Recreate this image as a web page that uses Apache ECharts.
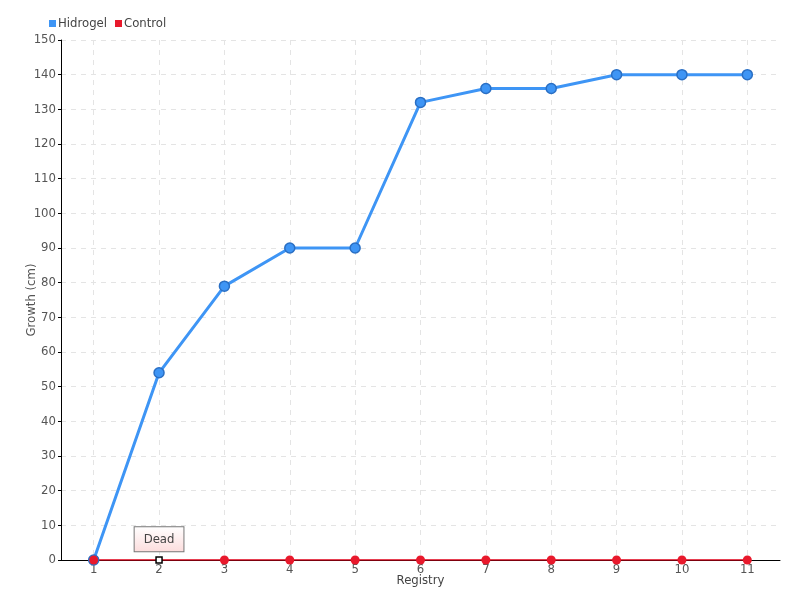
<!DOCTYPE html>
<html>
<head>
<meta charset="utf-8">
<script src="https://cdn.jsdelivr.net/npm/echarts@6/dist/echarts.min.js"></script>
<style>
  html, body { margin: 0; padding: 0; background: #fff; }
  #chart { width: 800px; height: 600px; }
</style>
</head>
<body>
<div id="chart"></div>
<script>
let categories = ['1', '2', '3', '4', '5', '6', '7', '8', '9', '10', '11'];
let hidrogel = [0, 54, 79, 90, 90, 132, 136, 136, 140, 140, 140];
let control = [0, 0, 0, 0, 0, 0, 0, 0, 0, 0, 0];
let deadIndex = 1;

let font = 'DejaVu Sans Condensed';

function init() {
    let controlData = control.map((v, i) => {
        if (i !== deadIndex) return v;
        return {
            value: v,
            symbol: 'rect',
            symbolSize: 6,
            itemStyle: { color: '#fff', borderColor: '#000', borderWidth: 1.5 },
            label: {
                show: true,
                position: 'top',
                distance: 5,
                formatter: 'Dead',
                color: '#444',
                fontFamily: font,
                fontSize: 13,
                padding: [6, 9, 5, 9],
                borderColor: '#777',
                borderWidth: 1,
                backgroundColor: {
                    type: 'linear', x: 0, y: 0, x2: 0, y2: 1,
                    colorStops: [{ offset: 0, color: '#fff' }, { offset: 1, color: '#fcdcdc' }]
                }
            }
        };
    });

    let option = {
        animation: false,
        textStyle: { fontFamily: font },
        legend: {
            left: 44,
            top: 12,
            itemWidth: 7,
            itemHeight: 7,
            itemGap: 8,
            itemStyle: { borderWidth: 0 },
            textStyle: { color: '#444', fontSize: 13, fontFamily: font, padding: [0, 0, 0, -3] },
            data: [
                { name: 'Hidrogel', icon: 'rect' },
                { name: 'Control', icon: 'rect' }
            ]
        },
        grid: { left: 61, right: 20, top: 40, bottom: 40 },
        xAxis: {
            type: 'category',
            data: categories,
            boundaryGap: true,
            name: 'Registry',
            nameLocation: 'middle',
            nameGap: 14,
            nameMoveOverlap: false,
            nameTextStyle: { color: '#444', fontSize: 13 },
            axisLine: { lineStyle: { color: '#000', width: 1 } },
            axisTick: { show: false, alignWithLabel: true },
            axisLabel: { color: '#555', fontSize: 13, margin: 3 },
            splitLine: { show: true, alignWithLabel: true, lineStyle: { color: '#e4e4e4', type: [5, 5] } }
        },
        yAxis: {
            type: 'value',
            min: 0,
            max: 150,
            interval: 10,
            name: 'Growth (cm)',
            nameLocation: 'middle',
            nameGap: 23,
            nameMoveOverlap: false,
            nameTextStyle: { color: '#555', fontSize: 13 },
            axisLine: { show: true, lineStyle: { color: '#000', width: 1 } },
            axisTick: { show: true, length: 3, lineStyle: { color: '#000' } },
            axisLabel: { color: '#555', fontSize: 13, margin: 5 },
            splitLine: { show: true, lineStyle: { color: '#e4e4e4', type: [5, 5] } }
        },
        series: [
            {
                name: 'Hidrogel',
                type: 'line',
                data: hidrogel,
                color: '#3e95f5',
                symbol: 'circle',
                symbolSize: 10,
                lineStyle: { width: 3, color: '#3e95f5' },
                itemStyle: { color: '#3e95f5', borderColor: '#2a6fc4', borderWidth: 1.5 }
            },
            {
                name: 'Control',
                type: 'line',
                data: controlData,
                color: '#e8192c',
                symbol: 'circle',
                symbolSize: 9,
                lineStyle: { width: 1.5, color: '#e00018' },
                itemStyle: { color: '#e8192c' },
                z: 3
            }
        ]
    };

    let chartDom = document.getElementById('chart');
    let myChart = echarts.init(chartDom);
    myChart.setOption(option);
}
init();
</script>
</body>
</html>
